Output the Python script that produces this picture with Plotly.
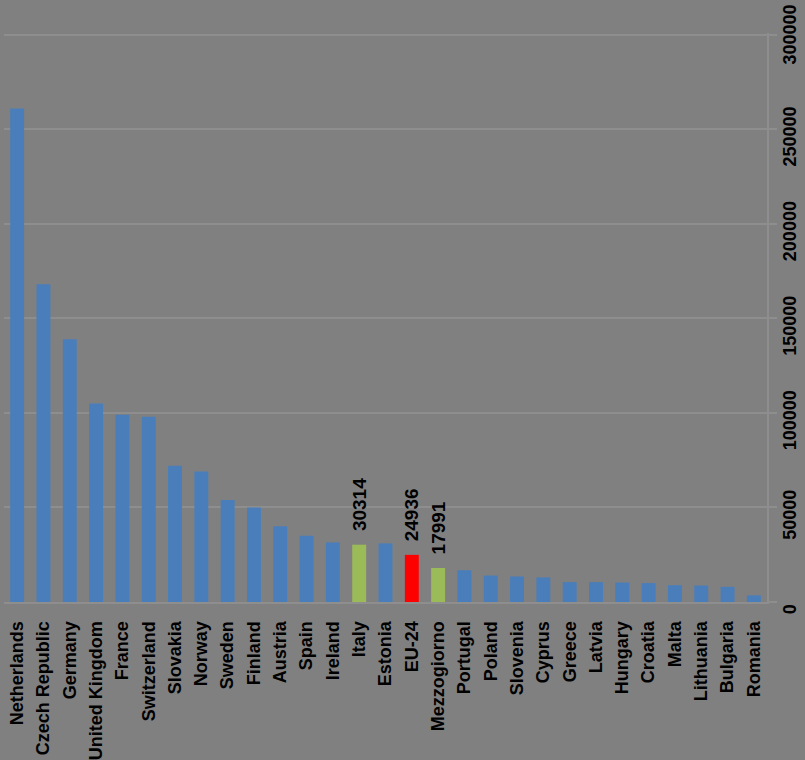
import plotly.graph_objects as go

countries = ["Netherlands", "Czech Republic", "Germany", "United Kingdom", "France",
             "Switzerland", "Slovakia", "Norway", "Sweden", "Finland", "Austria",
             "Spain", "Ireland", "Italy", "Estonia", "EU-24", "Mezzogiorno",
             "Portugal", "Poland", "Slovenia", "Cyprus", "Greece", "Latvia",
             "Hungary", "Croatia", "Malta", "Lithuania", "Bulgaria", "Romania"]
values = [261000, 168000, 139000, 105000, 99000, 98000, 72000, 69000, 54000,
          50000, 40000, 35000, 31500, 30314, 31000, 24936, 17991, 16800, 14000,
          13500, 13000, 10500, 10500, 10300, 10000, 8900, 8700, 8000, 3500]
labelled = ["Italy", "EU-24", "Mezzogiorno"]
tick_vals = [0, 50000, 100000, 150000, 200000, 250000, 300000]

BLUE = "#4a7ebb"
GREEN = "#9bbb59"
RED = "#ff0000"
colors = []
for c in countries:
    if c in ("Italy", "Mezzogiorno"):
        colors.append(GREEN)
    elif c == "EU-24":
        colors.append(RED)
    else:
        colors.append(BLUE)
NB = "\u00a0"
texts = [NB * 2 + str(v) if c in labelled else "" for c, v in zip(countries, values)]
tick_text = [str(v) + (NB * 4 if v < 300000 else NB) for v in tick_vals]

BG = "#808080"
GRID = "#8e8e8e"
FONT = "Liberation Sans"

fig = go.Figure(go.Bar(
    x=countries, y=values, marker=dict(color=colors, line=dict(width=0)),
    text=texts, textposition="outside", textangle=-90, cliponaxis=False,
    constraintext="none",
    textfont=dict(family=FONT, size=19, color="black", weight="bold"),
))
fig.update_layout(
    width=805, height=760,
    paper_bgcolor=BG, plot_bgcolor=BG,
    margin=dict(l=4, r=38, t=33, b=158),
    bargap=0.47, showlegend=False,
    font=dict(family=FONT, color="black", weight="bold"),
)
fig.update_xaxes(
    tickangle=-90, tickfont=dict(size=18, family=FONT, color="black", weight="bold"),
    showgrid=False, showline=True, linecolor=GRID, linewidth=2,
    ticks="", ticklabelstandoff=10, range=[-0.5, len(countries) - 0.5],
    automargin=False,
)
fig.update_yaxes(
    side="right", range=[0, 300900], tickvals=tick_vals,
    ticktext=tick_text, tickangle=-90,
    tickfont=dict(size=18, family=FONT, color="black", weight="bold"),
    showgrid=True, gridcolor=GRID, gridwidth=2, zeroline=False,
    showline=True, linecolor=GRID, linewidth=2,
    ticks="outside", ticklen=8, tickcolor=GRID, tickwidth=2,
    ticklabelstandoff=-3, ticklabeloverflow="allow", automargin=False,
)
fig.write_html("out.html")
